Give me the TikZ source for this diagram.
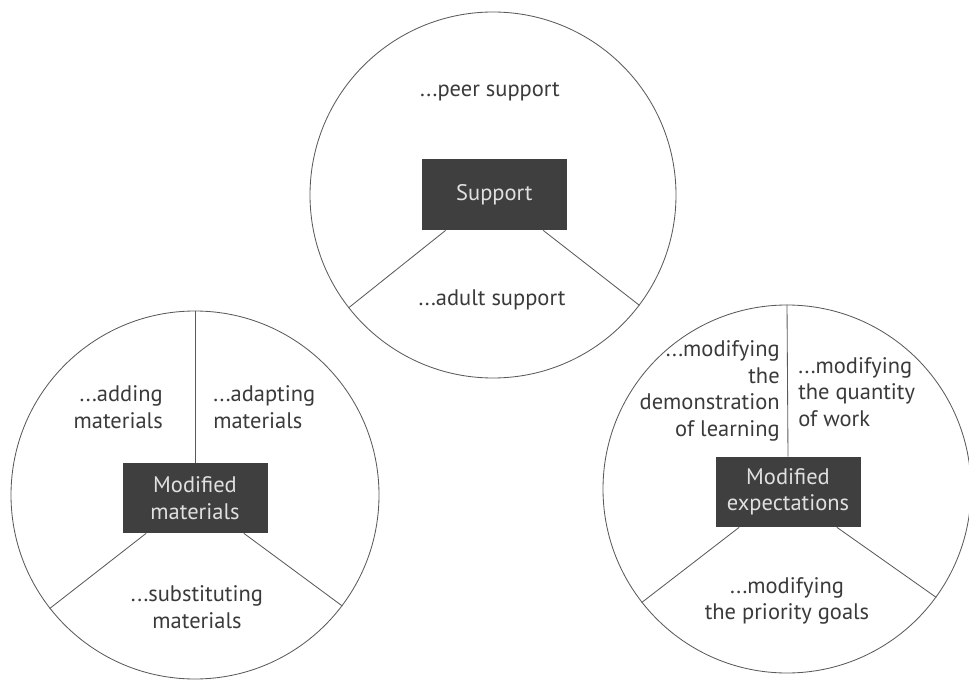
\documentclass[tikz,border=0pt]{standalone}
\usepackage{fontspec}
\setmainfont{PT Sans}
\definecolor{boxgray}{HTML}{3F3F3F}
\definecolor{inkgray}{HTML}{3A3A3A}
\definecolor{linegray}{HTML}{5A5A5A}
\tikzset{
  wheel/.style={circle,draw=linegray,line width=0.6pt,minimum size=9.2cm,inner sep=0pt},
  hub/.style={fill=boxgray,text=black!12,minimum width=3.625cm,minimum height=1.75cm,
    align=center,inner sep=0pt,font=\fontsize{16}{18.8}\selectfont},
  part/.style={text=inkgray,inner sep=0pt,font=\fontsize{16}{18.8}\selectfont},
  spoke/.style={draw=linegray,line width=0.6pt}
}
\begin{document}
\begin{tikzpicture}
 \useasboundingbox (0,0) rectangle (24.225,17.025);
 % support
 \node[wheel,minimum size=9.15cm] (topw) at (12.325,12.15) {};
 \node[hub,minimum height=1.775cm] (sup) at (12.36,12.16) {Support};
 \draw[spoke] ([xshift=0.6cm]sup.south west) -- (topw.218);
 \draw[spoke] ([xshift=-0.6cm]sup.south east) -- (topw.323);
 \node[part] (peer) at (12.25,14.725) {...peer support};
 \node[part] (adult) at (12.3,9.525) {...adult support};
 % modified materials
 \node[wheel] (leftw) at (4.875,4.65) {};
 \node[hub] (mat) at (4.875,4.575) {Modified\\materials};
 \draw[spoke] (leftw.north) -- (mat.north);
 \draw[spoke] ([xshift=0.6cm]mat.south west) -- (leftw.218);
 \draw[spoke] ([xshift=-0.6cm]mat.south east) -- (leftw.323);
 \node[part,align=right,anchor=east] (adding) at (4.075,6.85) {...adding\\materials};
 \node[part,align=left,anchor=west] (adapting) at (5.325,6.85) {...adapting\\materials};
 \node[part,align=center] (subst) at (4.925,1.85) {...substituting\\materials};
 % modified expectations
 \node[wheel] (rightw) at (19.675,4.8) {};
 \node[hub] (expect) at (19.7,4.725) {Modified\\expectations};
 \draw[spoke] (rightw.north) -- (expect.north);
 \draw[spoke] ([xshift=0.6cm]expect.south west) -- (rightw.218);
 \draw[spoke] ([xshift=-0.6cm]expect.south east) -- (rightw.324);
 \node[part,align=right,anchor=east] (demo) at (19.5,7.25) {...modifying\\the\\demonstration\\of learning};
 \node[part,align=left,anchor=west] (quant) at (19.95,7.225) {...modifying\\the quantity\\of work};
 \node[part,align=center] (prio) at (19.675,2.0) {...modifying\\the priority goals};
\end{tikzpicture}
\end{document}
